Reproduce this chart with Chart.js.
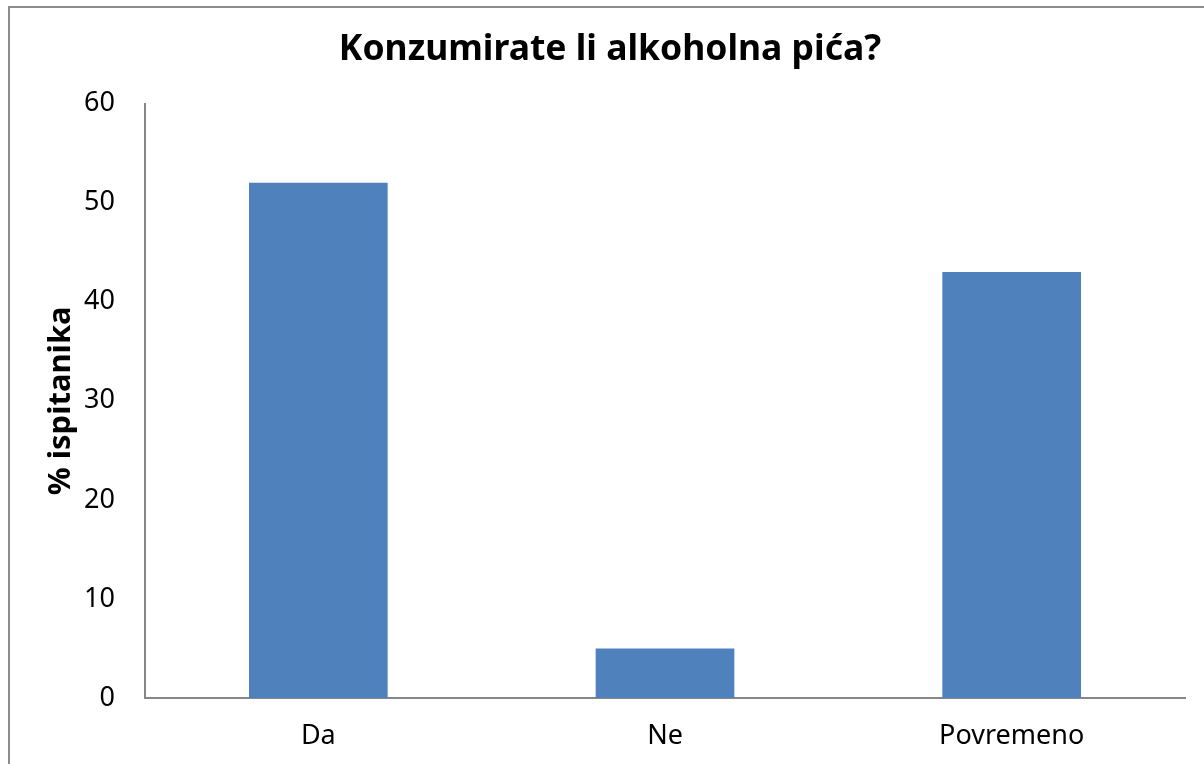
<!DOCTYPE html>
<html>
<head>
<meta charset="utf-8">
<script src="https://cdn.jsdelivr.net/npm/chart.js@4"></script>
<style>
  html, body { margin: 0; padding: 0; background: #fff; }
  #wrap { width: 1204px; height: 764px; position: relative; }
</style>
</head>
<body>
<div id="wrap"><canvas id="myChart" width="1204" height="764"></canvas></div>
<script>
  // chart data
  const categories = ['Da', 'Ne', 'Povremeno'];
  const percentValues = [52, 5, 43];
  const yTicks = [0, 10, 20, 30, 40, 50, 60];

  const fontFamily = "'Noto Sans', 'Open Sans', sans-serif";
  const axisGray = '#868686';

  // outer frame like the office chart border
  const framePlugin = {
    id: 'frame',
    beforeDraw(chart) {
      const c = chart.ctx;
      c.save();
      c.fillStyle = '#fff';
      c.fillRect(0, 0, chart.width, chart.height);
      c.strokeStyle = '#8c8c8c';
      c.lineWidth = 2;
      c.strokeRect(9, 7, 1400, 1000);
      c.restore();
    }
  };

  const ctx = document.getElementById('myChart').getContext('2d');
  const myChart = new Chart(ctx, {
    type: 'bar',
    data: {
      labels: categories,
      datasets: [{
        label: '% ispitanika',
        data: percentValues,
        backgroundColor: '#4f81bd',
        borderWidth: 0,
        barPercentage: 0.4,
        categoryPercentage: 1
      }]
    },
    options: {
      responsive: false,
      animation: false,
      layout: { padding: { left: 35, right: 19, top: 0, bottom: 0 } },
      plugins: {
        legend: { display: false },
        tooltip: { enabled: false },
        title: {
          display: true,
          text: 'Konzumirate li alkoholna pića?',
          color: '#000',
          font: { family: fontFamily, size: 35.5, weight: 'bold', lineHeight: 1.2 },
          padding: { top: 29, bottom: 32 }
        }
      },
      scales: {
        y: {
          min: 0,
          max: 60,
          afterFit: (scale) => { scale.width = 110; },
          afterBuildTicks: (scale) => { scale.ticks = yTicks.map(v => ({ value: v })); },
          grid: { display: false, drawTicks: false },
          border: { display: true, color: axisGray, width: 2 },
          ticks: {
            color: '#000',
            padding: 30,
            font: { family: fontFamily, size: 27 }
          },
          title: {
            display: true,
            text: '% ispitanika',
            color: '#000',
            font: { family: fontFamily, size: 31, weight: 'bold', lineHeight: 1.2 },
            padding: { top: 8, bottom: 0 }
          }
        },
        x: {
          afterFit: (scale) => { scale.height = 66; },
          grid: { display: false, drawTicks: false },
          border: { display: true, color: axisGray, width: 2 },
          ticks: {
            color: '#000',
            padding: 22,
            font: { family: fontFamily, size: 27 }
          }
        }
      }
    },
    plugins: [framePlugin]
  });
</script>
</body>
</html>
